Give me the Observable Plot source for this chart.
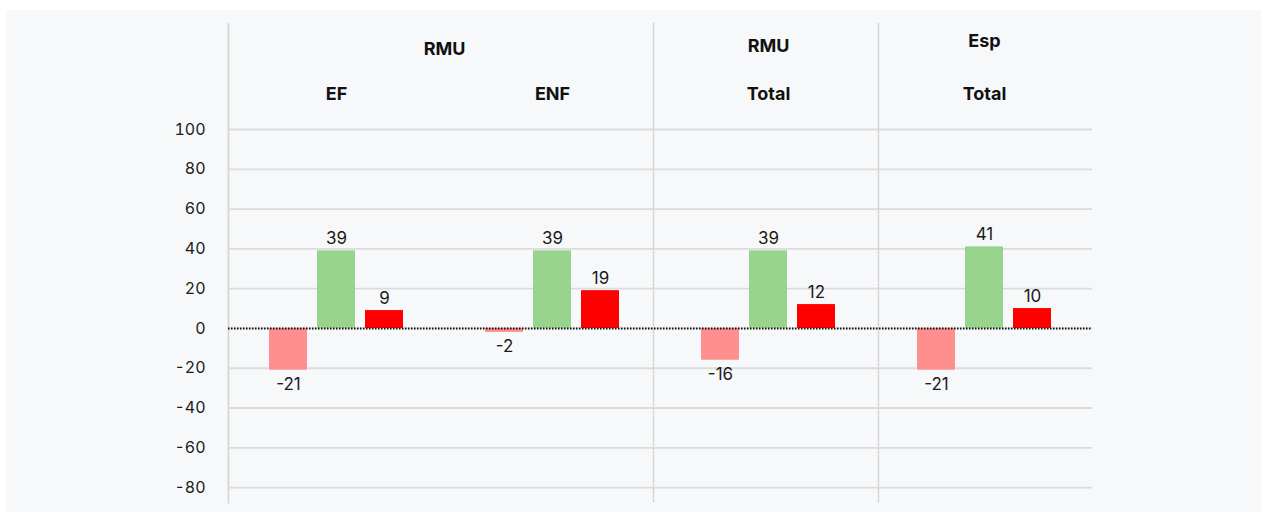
<!DOCTYPE html>
<html>
<head>
<meta charset="utf-8">
<script src="https://cdn.jsdelivr.net/npm/d3@7"></script>
<script src="https://cdn.jsdelivr.net/npm/@observablehq/plot@0.6"></script>
<style>
  html, body { margin: 0; padding: 0; background: #ffffff; }
  #wrap { position: relative; width: 1261px; height: 512px; }
  #bg { position: absolute; left: 6px; top: 10px; right: 0; bottom: 0; background: #f7f8fa; }
  #chart { position: absolute; left: 0; top: 0; }
</style>
</head>
<body>
<div id="wrap"><div id="bg"></div><div id="chart"></div></div>
<script>
// ---- data ----
const groups = ["RMU", "RMU", "RMU", "Esp"];
const subgroups = ["EF", "ENF", "Total", "Total"];
const keys = ["RMU EF", "RMU ENF", "RMU Total", "Esp Total"];
const seriesNames = ["Serie 1", "Serie 2", "Serie 3"];
const serie1 = [-21, -2, -16, -21];
const serie2 = [39, 39, 39, 41];
const serie3 = [9, 19, 12, 10];
const seriesColors = ["#ff8f8f", "#98d48b", "#ff0000"];
const yTicks = [-80, -60, -40, -20, 0, 20, 40, 60, 80, 100];

const seriesValues = [serie1, serie2, serie3];
const data = [];
keys.forEach((k, i) => {
  seriesNames.forEach((s, j) => {
    data.push({key: k, group: groups[i], sub: subgroups[i], series: s, value: seriesValues[j][i]});
  });
});
const subData = keys.map((k, i) => ({key: k, sub: subgroups[i]}));

const textColor = "#1b1b1b";
const headColor = "#111111";

const chart = Plot.plot({
  width: 1261,
  height: 512,
  marginLeft: 228,
  marginRight: 169,
  marginTop: 23,
  marginBottom: 10,
  style: {fontFamily: "Inter, sans-serif", fontSize: "16px", color: textColor, background: "transparent"},
  fx: {domain: keys, padding: 0, axis: null},
  x: {domain: seriesNames, paddingInner: 0.2, paddingOuter: 0.835, axis: null},
  y: {domain: [-87.5, 153.3], axis: null},
  color: {domain: seriesNames, range: seriesColors},
  marks: [
    Plot.gridY(yTicks, {stroke: "#dcdcdc", strokeOpacity: 1, strokeWidth: 1.8}),
    Plot.frame({anchor: "left", fx: "RMU EF", stroke: "#d6d6d6", strokeWidth: 1.8}),
    Plot.frame({anchor: "left", fx: "RMU Total", stroke: "#d2d2d2", strokeWidth: 1.5, strokeDasharray: "2,2", dx: -7}),
    Plot.frame({anchor: "left", fx: "Esp Total", stroke: "#d2d2d2", strokeWidth: 1.5, strokeDasharray: "2,2", dx: 2}),
    Plot.axisY(yTicks, {tickSize: 0, tickPadding: 23, fontSize: 16, fill: textColor, label: null, tickFormat: d => String(d)}),
    Plot.barY(data, {fx: "key", x: "series", y: "value", fill: "series"}),
    Plot.ruleY([0], {stroke: "#111", strokeWidth: 2, strokeDasharray: "1.5,1.5"}),
    Plot.text(data.filter(d => d.value >= 0), {fx: "key", x: "series", y: "value", text: d => String(d.value), lineAnchor: "bottom", dy: -7, fontSize: 17, fill: textColor}),
    Plot.text(data.filter(d => d.value < 0), {fx: "key", x: "series", y: "value", text: d => String(d.value), lineAnchor: "top", dy: 7.5, fontSize: 17, fill: textColor}),
    Plot.text(subData, {fx: "key", text: "sub", frameAnchor: "top", lineAnchor: "bottom", dy: 76, fontWeight: "bold", fontSize: 18, fill: headColor}),
    Plot.text([groups[0]], {fx: () => keys[0], text: d => d, frameAnchor: "top-right", textAnchor: "middle", lineAnchor: "bottom", dy: 31, fontWeight: "bold", fontSize: 18, fill: headColor}),
    Plot.text([groups[2]], {fx: () => keys[2], text: d => d, frameAnchor: "top", lineAnchor: "bottom", dy: 28, fontWeight: "bold", fontSize: 18, fill: headColor}),
    Plot.text([groups[3]], {fx: () => keys[3], text: d => d, frameAnchor: "top", lineAnchor: "bottom", dy: 23, fontWeight: "bold", fontSize: 18, fill: headColor})
  ]
});
document.getElementById("chart").appendChild(chart);
</script>
</body>
</html>
